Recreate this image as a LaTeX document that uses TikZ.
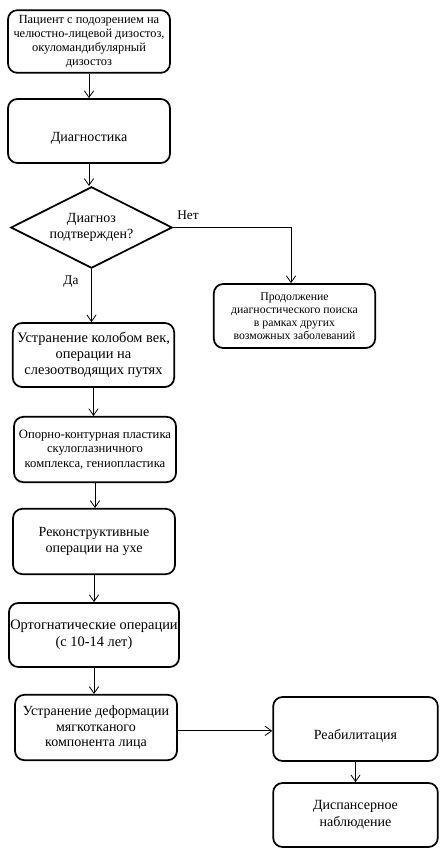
\documentclass[tikz,border=0pt]{standalone}
\usepackage{fontspec}
\setmainfont{Liberation Serif}
\usetikzlibrary{arrows.meta,shapes.geometric}
\begin{document}
\begin{tikzpicture}[x=0.75pt,y=-0.75pt,
  box/.style={draw,line width=1.3pt,rounded corners=7pt,align=center,inner sep=1pt},
  conn/.style={line width=0.6pt,-{Straight Barb[length=5pt,width=7pt,line width=0.6pt]}},
  lbl/.style={font=\fontsize{10}{12}\selectfont,inner sep=0pt}]
\useasboundingbox (0,0) rectangle (441,858);
\node[box,minimum width=121.5pt,minimum height=47pt,font=\fontsize{9.3}{10.5}\selectfont] (b1) at (89,41.5)
  {Пациент с подозрением на\\челюстно-лицевой дизостоз,\\окуломандибулярный\\дизостоз};
\node[box,minimum width=121.5pt,minimum height=48pt,font=\fontsize{10.5}{12}\selectfont] (b2) at (89,131)
  {\raisebox{-8pt}[0pt][0pt]{Диагностика}};
\node[draw,line width=1.3pt,shape=diamond,inner sep=0pt,minimum width=121pt,minimum height=61pt] (dia) at (91.5,227.5) {};
\node[align=center,inner sep=0pt,font=\fontsize{10.5}{12.5}\selectfont] (diat) at (dia.center) {Диагноз\\подтвержден?};
\node[box,minimum width=121pt,minimum height=48pt,font=\fontsize{8.8}{9.8}\selectfont] (br) at (294.5,316)
  {Продолжение\\диагностического поиска\\в рамках других\\возможных заболеваний};
\node[box,minimum width=121pt,minimum height=48pt,font=\fontsize{10.8}{12}\selectfont] (b3) at (93.5,355)
  {Устранение колобом век,\\операции на\\слезоотводящих путях};
\node[box,minimum width=121.5pt,minimum height=49pt,font=\fontsize{9.5}{10.8}\selectfont] (b4) at (95,449.5)
  {Опорно-контурная пластика\\скулоглазничного\\комплекса, гениопластика};
\node[box,minimum width=121.5pt,minimum height=49pt,font=\fontsize{10.5}{12.5}\selectfont] (b5) at (94,541.5)
  {Реконструктивные\\операции на ухе};
\node[box,minimum width=121.5pt,minimum height=48pt,font=\fontsize{10.8}{12.5}\selectfont] (b6) at (94,635)
  {Ортогнатические операции\\(с 10-14 лет)};
\node[box,minimum width=121.5pt,minimum height=49pt,font=\fontsize{10.5}{11.5}\selectfont] (b7) at (96,727.5)
  {Устранение деформации\\мягкотканого\\компонента лица};
\node[box,minimum width=123.5pt,minimum height=48pt,font=\fontsize{10.5}{12}\selectfont] (b8) at (355.5,729)
  {\raisebox{-7.5pt}[0pt][0pt]{Реабилитация}};
\node[box,minimum width=123.5pt,minimum height=48pt,font=\fontsize{10.5}{12.5}\selectfont] (b9) at (355.5,815)
  {Диспансерное\\наблюдение};
\node[lbl] (no) at (188,215) {Нет};
\node[lbl] (yes) at (71,282) {Да};
\draw[conn] (b1.south) -- (b1.south |- b2.north);
\draw[conn] (b2.south) -- (b2.south |- dia.north);
\draw[conn] (dia.east) -| ([xshift=-2.6pt]br.north);
\draw[conn] (dia.south) -- (dia.south |- b3.north);
\draw[conn] (b3.south) -- (b3.south |- b4.north);
\draw[conn] (b4.south) -- (b4.south |- b5.north);
\draw[conn] (b5.south) -- (b5.south |- b6.north);
\draw[conn] (b6.south) -- (b6.south |- b7.north);
\draw[conn] ([yshift=-2.5pt]b7.east) -- ([yshift=-2.5pt]b7.east -| b8.west);
\draw[conn] (b8.south) -- (b9.north);
\end{tikzpicture}
\end{document}
